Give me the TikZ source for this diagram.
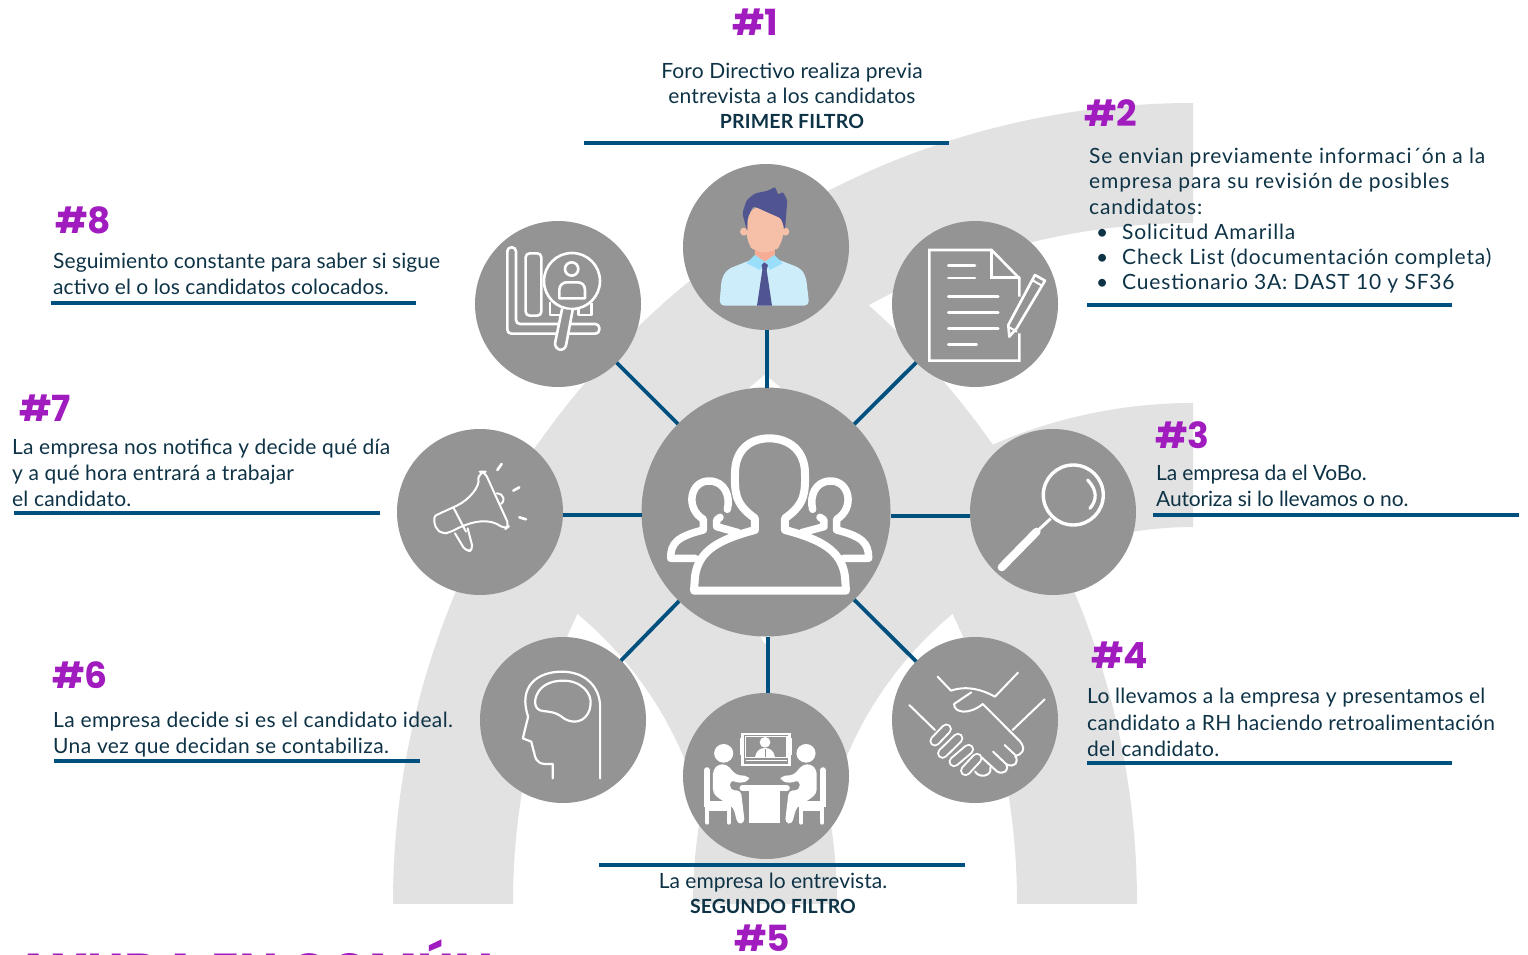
\documentclass[tikz,border=0pt]{standalone}
\usepackage{fontspec}
\setmainfont{Lato}
\newfontfamily\numfont{Poppins}
\usepackage{tikz}

\definecolor{bandgray}{HTML}{E2E2E2}
\definecolor{dotgray}{HTML}{949494}
\definecolor{linkblue}{HTML}{00507F}
\definecolor{inkblue}{HTML}{0E3346}
\definecolor{numpurple}{HTML}{A01CBE}
\definecolor{hairblue}{HTML}{505592}
\definecolor{skintone}{HTML}{F6BFA7}
\definecolor{shirtblue}{HTML}{CEEDFB}
\definecolor{collarblue}{HTML}{9ADFFA}

\newcommand{\notefont}[1]{\fontsize{21}{26}\selectfont\addfontfeature{LetterSpace=#1}}
\newcommand{\filtertag}[1]{{\fontsize{19.5}{26}\selectfont\bfseries #1}}

\tikzset{
    hubdot/.style={circle,fill=dotgray,inner sep=0pt,outer sep=0pt,minimum size=249pt},
    stepdot/.style={circle,fill=dotgray,inner sep=0pt,outer sep=0pt,minimum size=166pt},
    link/.style={draw=linkblue,line width=3.8pt},
    rule/.style={draw=linkblue,line width=3.8pt},
    numtag/.style={anchor=base west,inner sep=0pt,text=numpurple,font=\numfont\bfseries\fontsize{36}{36}\selectfont},
    note/.style={anchor=north west,inner sep=0pt,align=left,text=inkblue,font=\notefont{#1}},
    note/.default=0,
    icon/.style={draw=white,line width=2.6pt,line cap=round,line join=round},
    thinicon/.style={draw=white,line width=2pt,line cap=round,line join=round}
}

% Seated figure of the interview icon
\newcommand{\sitterfig}{
    \fill[white] (663,370) ellipse (25 and 28);
    \fill[white,rounded corners=4pt] (635,490) -- (635,420) -- (650,402) -- (672,404) -- (695,435) -- (728,438) -- (730,452) -- (705,460) -- (680,450) -- (680,480) -- (708,482) -- (718,578) -- (700,583) -- (688,532) -- (650,505) -- cycle;
    \draw[white,line width=5.5pt,line cap=round] (619,420) -- (619,522) -- (680,522);
    \draw[white,line width=4pt,line cap=round] (620,578) -- (620,537) -- (676,537) -- (676,578);
}

\begin{document}
\begin{tikzpicture}[x=1pt,y=-1pt]
    \useasboundingbox (0,0) rectangle (1528,955);
    \clip (0,0) rectangle (1528,955);

    % Draw the grey bands behind everything
    \begin{scope}
        \clip (392,0) rectangle (1193,903);
        \clip (1193,903) circle (800);
        \foreach \cx/\rout/\rin in {1193/800/680, 337/800/680, 1193/500/376, 337/500/376} {
            \fill[bandgray,even odd rule] (\cx,903) circle (\rout) (\cx,903) circle (\rin);
        }
    \end{scope}

    % Draw the hub and the eight steps
    \node[hubdot] (hub) at (766,512) {};
    \foreach \name/\xx/\yy in {first/766/247, second/975/304, third/1053/512, fourth/975/720,
                               fifth/766/776, sixth/563/720, seventh/480/512, eighth/558/304} {
        \node[stepdot] (\name) at (\xx,\yy) {};
    }

    % Draw the links from the hub
    \foreach \name in {second,fourth,sixth,eighth} {
        \draw[link] (hub) -- (\name);
    }
    \draw[link] ([xshift=1pt]hub.north) -- ([xshift=1pt]first.south);
    \draw[link] ([xshift=2pt]hub.south) -- ([xshift=2pt]fifth.north);
    \draw[link] ([yshift=-4pt]hub.east) -- ([yshift=-4pt]third.west);
    \draw[link] ([yshift=-3pt]hub.west) -- ([yshift=-3pt]seventh.east);

    % Draw the rule under each text
    \foreach \xa/\xb/\yy in {584/949/143, 1087/1452/305, 1153/1519/515, 1087/1452/763,
                             599/965/865, 54/420/761, 14/380/513, 51/416/303} {
        \draw[rule] (\xa,\yy) -- (\xb,\yy);
    }

    % Draw the step numbers
    \foreach \name/\num/\xx/\yy in {numa/1/732/36, numb/2/1084/127, numc/3/1155/448, numd/4/1091/668,
                                    nume/5/734/951, numf/6/52/688, numg/7/19/421, numh/8/55/233} {
        \node[numtag] (\name) at (\xx,\yy) {\#\num};
    }

    % Draw the texts
    \node[note=0.8,anchor=north,align=center] (texta) at (792,63) {Foro Directivo realiza previa\\[-1pt]entrevista a los candidatos\\[-1pt]\filtertag{PRIMER FILTRO}};
    \node[note=4] (textb) at (1089,148) {Se envian previamente informaci´ón a la\\[-0.8pt]empresa para su revisión de posibles\\[-0.8pt]candidatos:\\[-0.8pt]
        \hspace*{9pt}\makebox[8pt]{\textbullet}\hspace*{16pt}Solicitud Amarilla\\[-0.8pt]
        \hspace*{9pt}\makebox[8pt]{\textbullet}\hspace*{16pt}Check List (documentación completa)\\[-0.8pt]
        \hspace*{9pt}\makebox[8pt]{\textbullet}\hspace*{16pt}Cuestionario 3A: DAST 10 y SF36};
    \node[note=-0.8] (textc) at (1156,465) {La empresa da el VoBo.\\Autoriza si lo llevamos o no.};
    \node[note=1.4] (textd) at (1087,688) {Lo llevamos a la empresa y presentamos el\\[0.5pt]candidato a RH haciendo retroalimentación\\[0.5pt]del candidato.};
    \node[note=0,anchor=north,align=center] (texte) at (773,873) {La empresa lo entrevista.\\[-1pt]\filtertag{SEGUNDO FILTRO}};
    \node[note=1.8] (textf) at (53,712) {La empresa decide si es el candidato ideal.\\Una vez que decidan se contabiliza.};
    \node[note=1] (textg) at (12,439) {La empresa nos notifica y decide qué día\\y a qué hora entrará a trabajar\\el candidato.};
    \node[note=0.4] (texth) at (53,253) {Seguimiento constante para saber si sigue\\activo el o los candidatos colocados.};

    % Title cut off by the lower edge
    \node[anchor=base west,inner sep=0pt,text=numpurple,font=\numfont\bfseries\fontsize{52}{52}\selectfont] (title) at (14,990) {AYUDA EN COMÚN};

    % Icon of the first step
    \begin{scope}[shift={(640,150)},x=0.3333pt,y=-0.3333pt]
        \fill[shirtblue,rounded corners=5pt] (238,467) -- (245,385) -- (262,358) -- (345,325) -- (405,325) -- (482,355) -- (498,380) -- (508,467) -- cycle;
        \fill[skintone] (312,245) circle (12) (436,245) circle (12);
        \fill[skintone!90!red] (345,295) -- (405,295) -- (405,322) -- (375,336) -- (345,322) -- cycle;
        \fill[skintone,rounded corners=9pt] (322,205) -- (320,280) -- (348,308) -- (400,308) -- (428,280) -- (432,200) -- (340,165) -- cycle;
        \fill[hairblue,rounded corners=2pt] (322,245) -- (307,190) -- (320,150) -- (345,130) -- (385,122) -- (405,110) -- (415,135) -- (428,125) -- (442,150) -- (435,240) -- (423,205) -- (340,168) -- (322,205) -- cycle;
        \fill[collarblue] (320,340) -- (345,315) -- (375,335) -- (360,360) -- cycle;
        \fill[collarblue] (428,340) -- (403,315) -- (375,335) -- (390,360) -- cycle;
        \fill[hairblue] (365,345) -- (373,337) -- (384,345) -- (380,360) -- (396,467) -- (351,467) -- (367,360) -- cycle;
    \end{scope}

    % Icon of the second step
    \begin{scope}[shift={(640,150)},x=0.3333pt,y=-0.3333pt]
        \draw[icon,line cap=butt,line join=miter] (1138,440) -- (1138,385) -- (1055,300) -- (868,300) -- (868,632) -- (1138,632) -- (1138,550);
        \draw[icon,line join=miter] (1055,300) -- (1055,383) -- (1138,383);
        \foreach \xe/\ye in {1005/347, 1005/384, 1075/440, 1075/488, 1075/536, 1010/583} {
            \draw[icon] (925,\ye) -- (\xe,\ye);
        }
        \draw[icon] (1185,375) -- (1215,392) -- (1130,535) -- (1108,560) -- (1105,525) -- cycle;
        \draw[thinicon] (1176,390) -- (1206,407);
        \draw[thinicon] (1105,530) -- (1130,545);
    \end{scope}

    % Icon of the third step and the big group of the hub
    \begin{scope}[shift={(640,380)},x=0.3333pt,y=-0.3333pt]
        \draw[white,line width=3.4pt] (1300,345) circle (90);
        \draw[white,line width=3.2pt,line cap=round] (1343,300) .. controls (1372,330) and (1372,360) .. (1350,385);
        \draw[white,line width=3pt] (1232,416) -- (1190,455);
        \draw[white,line width=8pt,line cap=round] (1190,455) -- (1085,562);
        \draw[white,line width=8pt,line join=round] (162,632) -- (618,632) -- (615,590) .. controls (605,510) and (540,478) .. (435,450) -- (435,415) .. controls (500,370) and (495,330) .. (495,280) .. controls (495,215) and (450,175) .. (388,175) .. controls (325,175) and (285,215) .. (285,280) .. controls (285,330) and (280,370) .. (345,415) -- (345,450) .. controls (240,478) and (175,510) .. (165,590) -- cycle;
        \draw[white,line width=7.5pt,line join=round,line cap=round] (165,535) -- (92,535) .. controls (92,490) and (110,470) .. (190,450) -- (190,418) .. controls (135,385) and (150,303) .. (207,303) .. controls (255,303) and (272,350) .. (262,388);
        \draw[white,line width=7.5pt,line join=round,line cap=round] (240,412) -- (230,420) -- (230,440) -- (295,458);
        \draw[white,line width=7.5pt,line join=round,line cap=round] (611,535) -- (686,535) .. controls (686,490) and (668,470) .. (590,450) -- (590,418) .. controls (645,385) and (630,303) .. (572,303) .. controls (525,303) and (508,350) .. (518,388);
        \draw[white,line width=7.5pt,line join=round,line cap=round] (540,412) -- (552,420) -- (552,440) -- (485,458);
    \end{scope}

    % Icon of the seventh step
    \begin{scope}[shift={(390,420)},x=0.3333pt,y=-0.3333pt]
        \draw[thinicon,rounded corners=5pt] (265,175) -- (272,155) -- (284,155) -- (358,318) -- (345,328) .. controls (300,295) and (250,300) .. (180,337) -- (158,342) .. controls (130,320) and (130,290) .. (150,280) -- (190,262) .. controls (235,240) and (272,200) .. (265,175);
        \draw[thinicon] (190,262) -- (228,335);
        \draw[thinicon,rounded corners=5pt] (195,340) -- (228,395) -- (250,390) -- (233,325);
        \draw[thinicon] (320,220) .. controls (345,222) and (345,245) .. (333,252);
        \draw[icon] (322,150) -- (335,132);
        \draw[icon] (370,212) -- (388,202);
        \draw[icon] (388,292) -- (408,298);
    \end{scope}

    % Icon of the eighth step
    \begin{scope}[shift={(390,150)},x=0.3333pt,y=-0.3333pt]
        \draw[icon,rounded corners=4pt] (352,292) -- (378,292) -- (378,522) -- (628,522) -- (628,551) -- (352,551) -- cycle;
        \draw[icon,rounded corners=4pt] (407,310) rectangle (454,497);
        \draw[icon,line cap=butt] (480,455) -- (480,495) -- (520,495);
        \draw[icon,line cap=butt] (565,470) -- (565,495) -- (605,495) -- (605,460);
        \fill[dotgray] (546,393) circle (84);
        \draw[icon] (546,393) circle (84);
        \draw[icon] (545,357) circle (20);
        \draw[icon] (508,445) -- (508,420) .. controls (508,405) and (520,397) .. (530,397) -- (563,397) .. controls (575,397) and (585,405) .. (585,420) -- (585,445) -- cycle;
        \fill[dotgray] (516,478) -- (492,590) -- (525,600) -- (548,480) -- cycle;
        \draw[icon,rounded corners=6pt] (516,478) -- (492,595) -- (525,603) -- (548,480);
    \end{scope}

    % Icons of the lower steps
    \begin{scope}[shift={(470,630)},x=0.38265pt,y=-0.3333pt]
        % head
        \draw[thinicon,line width=2.2pt] (216,445) -- (216,402) -- (195,402) .. controls (172,400) and (170,380) .. (168,370) -- (160,335) -- (138,325) -- (152,260) .. controls (125,170) and (175,125) .. (240,125) .. controls (305,125) and (340,175) .. (340,230) -- (340,445);
        \draw[thinicon,line width=2.2pt] (240,152) .. controls (290,150) and (320,190) .. (315,225) .. controls (312,265) and (280,290) .. (245,265) .. controls (225,245) and (205,245) .. (190,243) .. controls (165,240) and (165,205) .. (182,180) .. controls (195,162) and (215,153) .. (240,152) -- cycle;
        % interview
        \draw[white,line width=2.6pt] (712,312) rectangle (835,405);
        \draw[white,line width=1.6pt] (720,320) rectangle (828,382);
        \draw[white,line width=1.6pt] (720,392) -- (828,392);
        \draw[white,line width=2pt] (708,325) -- (708,375) (840,325) -- (840,375);
        \fill[white] (771,337) ellipse (14 and 16);
        \fill[white] (745,381) .. controls (748,362) and (758,354) .. (771,354) .. controls (784,354) and (794,362) .. (797,381) -- cycle;
        \draw[dotgray,line width=1pt] (771,358) -- (771,381);
        \sitterfig
        \begin{scope}[xshift=589.7pt,xscale=-1]
            \sitterfig
        \end{scope}
        \draw[white,line width=6pt,line cap=round] (712,474) -- (828,474);
        \fill[white] (728,480) rectangle (810,578);
        % handshake
        \draw[thinicon] (1222,140) -- (1257,182) .. controls (1300,165) and (1340,180) .. (1372,200) -- (1432,128);
        \draw[thinicon] (1148,225) -- (1215,300);
        \draw[thinicon] (1502,208) -- (1418,300);
        \draw[thinicon] (1310,187) -- (1265,222) .. controls (1265,250) and (1305,255) .. (1340,222) -- (1438,335) .. controls (1455,360) and (1440,375) .. (1425,378);
        \draw[thinicon] (1397,345) -- (1425,375);
        \draw[thinicon] (1367,365) -- (1402,403) .. controls (1425,415) and (1435,395) .. (1425,378);
        \draw[thinicon] (1338,383) -- (1378,425) .. controls (1395,435) and (1410,420) .. (1402,403);
        \draw[thinicon] (1320,425) .. controls (1330,445) and (1365,440) .. (1360,412);
        \foreach \xa/\ya/\xb/\yb in {1245/297/1215/333, 1275/325/1235/370, 1303/358/1265/395, 1325/385/1295/422} {
            \draw[white,line width=11pt,line cap=round] (\xa,\ya) -- (\xb,\yb);
            \draw[dotgray,line width=7pt,line cap=round] (\xa,\ya) -- (\xb,\yb);
        }
    \end{scope}
\end{tikzpicture}
\end{document}
